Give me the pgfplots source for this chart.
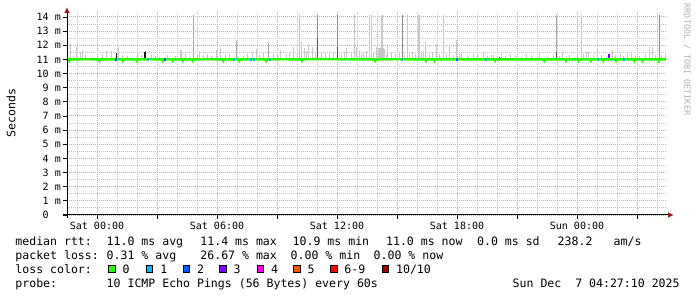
\documentclass[border=0pt]{standalone}
\usepackage{pgfplots}
\pgfplotsset{compat=1.18}
\usepackage{fontspec}
\newfontfamily\mono{DejaVu Sans Mono}
\newcommand\legfont{\mono\fontsize{11.55bp}{13bp}\selectfont}
\newcommand\tickfont{\mono\fontsize{10bp}{12bp}\selectfont}
\definecolor{majgrid}{HTML}{EC9A9A}
\definecolor{mingrid}{HTML}{C4C4C4}
\definecolor{smokeL}{HTML}{C8C8C8}
\definecolor{smokeM}{HTML}{A8A8A8}
\definecolor{smokeD}{HTML}{8C8C8C}
\definecolor{smokeX}{HTML}{555555}
\definecolor{smokeK}{HTML}{1A1A1A}
\definecolor{loss0}{HTML}{26FF00}
\definecolor{loss1}{HTML}{00B8FF}
\definecolor{loss2}{HTML}{0059FF}
\definecolor{loss3}{HTML}{7E00FF}
\definecolor{loss4}{HTML}{FF00FF}
\definecolor{loss5}{HTML}{FF5500}
\definecolor{loss6}{HTML}{FF0000}
\definecolor{loss10}{HTML}{A10000}
\definecolor{arrowred}{HTML}{9A1A1A}
\definecolor{wm}{HTML}{B0B0B0}
\begin{document}
\begin{tikzpicture}
\fill[white] (0,0) rectangle (697bp,297bp);
\path[use as bounding box] (0,0) rectangle (697bp,297bp);
\begin{axis}[
  at={(67bp,82bp)}, anchor=south west, scale only axis,
  width=600bp, height=202.7bp,
  xmin=-1.5, xmax=28.5, ymin=0, ymax=14.33,
  axis line style={draw=none},
  tick pos=left, tick align=outside,
  major tick length=3.5bp, minor tick length=0pt,
  every tick/.style={black, line width=0.8bp},
  xtick={0,3,6,9,12,15,18,21,24,27},
  xticklabels={Sat 00:00,{},Sat 06:00,{},Sat 12:00,{},Sat 18:00,{},Sun 00:00,{}},
  minor xtick={-1,1,2,4,5,7,8,10,11,13,14,16,17,19,20,22,23,25,26,28},
  ytick={0,1,2,3,4,5,6,7,8,9,10,11,12,13,14},
  yticklabels={0\hphantom{\ m},1 m,2 m,3 m,4 m,5 m,6 m,7 m,8 m,9 m,10 m,11 m,12 m,13 m,14 m},
  minor ytick={0.5,1.5,2.5,3.5,4.5,5.5,6.5,7.5,8.5,9.5,10.5,11.5,12.5,13.5},
  grid=both,
  major grid style={draw=majgrid, line width=1bp, dash pattern=on 1bp off 1bp},
  minor grid style={draw=mingrid, line width=1bp, dash pattern=on 1bp off 1bp},
  xticklabel style={font=\tickfont, inner sep=0pt, anchor=north, yshift=-2.9bp},
  yticklabel style={font=\tickfont, inner sep=0pt, anchor=east, xshift=-2.5bp},
  ylabel={Seconds},
  every axis y label/.style={at={(axis description cs:-0.0933,0.503)}, rotate=90, anchor=center, font=\legfont},
  smoke/.style={draw=none, no markers, forget plot, error bars/.cd, y dir=plus, y explicit, error mark=none, error bar style={line width=1bp, draw=#1, solid}},
]
% base smoke
\addplot[smoke=smokeL] coordinates {
(-1.2,11) +- (0,0.25) (-0.95,11) +- (0,0.2) (-0.6,11) +- (0,0.3) (-0.3,11) +- (0,0.2)
(0.0,11) +- (0,0.25) (0.25,11) +- (0,0.35) (0.9,11) +- (0,0.2) (1.5,11) +- (0,0.25)
(1.7,11) +- (0,0.2) (2.2,11) +- (0,0.3) (2.9,11) +- (0,0.25) (3.1,11) +- (0,0.2)
(3.5,11) +- (0,0.3) (3.9,11) +- (0,0.25) (4.4,11) +- (0,0.35) (4.6,11) +- (0,0.2)
(5.0,11) +- (0,0.3) (5.7,11) +- (0,0.25) (6.4,11) +- (0,0.3) (6.6,11) +- (0,0.35)
(7.3,11) +- (0,0.25) (7.5,11) +- (0,0.4) (8.1,11) +- (0,0.3) (8.3,11) +- (0,0.45)
(8.8,11) +- (0,0.35) (9.0,11) +- (0,0.4) (9.45,11) +- (0,0.35) (9.6,11) +- (0,0.45)
(10.0,11) +- (0,0.5) (10.45,11) +- (0,0.6) (10.9,11) +- (0,0.5) (11.2,11) +- (0,0.45)
(11.4,11) +- (0,0.5) (11.6,11) +- (0,0.4) (11.8,11) +- (0,0.45) (12.2,11) +- (0,0.4)
(12.35,11) +- (0,0.5) (12.7,11) +- (0,0.45) (13.2,11) +- (0,0.4) (13.8,11) +- (0,0.5)
(14.45,11) +- (0,0.4) (14.7,11) +- (0,0.45) (14.9,11) +- (0,0.35) (15.35,11) +- (0,0.4)
(15.6,11) +- (0,0.45) (15.9,11) +- (0,0.35) (16.6,11) +- (0,0.4) (17.1,11) +- (0,0.35)
(17.45,11) +- (0,0.4) (17.8,11) +- (0,0.3) (18.1,11) +- (0,0.35) (18.5,11) +- (0,0.3)
(19.0,11) +- (0,0.3) (19.5,11) +- (0,0.25) (19.8,11) +- (0,0.3) (20.4,11) +- (0,0.25)
(20.9,11) +- (0,0.3) (21.2,11) +- (0,0.2) (21.7,11) +- (0,0.3) (22.0,11) +- (0,0.25)
(22.5,11) +- (0,0.2) (22.8,11) +- (0,0.3) (23.1,11) +- (0,0.25) (23.6,11) +- (0,0.3)
(23.9,11) +- (0,0.2) (24.3,11) +- (0,0.35) (24.8,11) +- (0,0.3) (25.2,11) +- (0,0.3)
(25.45,11) +- (0,0.25) (25.9,11) +- (0,0.3) (26.3,11) +- (0,0.25) (26.5,11) +- (0,0.35)
(26.9,11) +- (0,0.3) (27.1,11) +- (0,0.25) (27.4,11) +- (0,0.35) (27.9,11) +- (0,0.3)
(28.2,11) +- (0,0.3)
};
% medium light spikes
\addplot[smoke=smokeL] coordinates {
(-1.32,11) +- (0,1.1) (-1.05,11) +- (0,0.86) (-0.85,11) +- (0,0.55) (-0.72,11) +- (0,0.7)
(0.45,11) +- (0,0.6) (0.7,11) +- (0,0.6) (1.07,11) +- (0,0.86) (1.28,11) +- (0,0.3)
(2.03,11) +- (0,0.55) (2.7,11) +- (0,0.4) (4.15,11) +- (0,0.7) (4.23,11) +- (0,0.7)
(5.12,11) +- (0,0.6) (5.3,11) +- (0,0.3) (5.5,11) +- (0,0.35) (5.98,11) +- (0,0.7)
(6.15,11) +- (0,0.86) (7.78,11) +- (0,0.55) (7.98,11) +- (0,0.74) (9.15,11) +- (0,0.67)
(9.82,11) +- (0,0.9) (10.2,11) +- (0,1.2) (10.35,11) +- (0,0.8) (10.57,11) +- (0,1.0)
(10.77,11) +- (0,0.9) (12.48,11) +- (0,0.83) (12.95,11) +- (0,0.9) (13.1,11) +- (0,0.67)
(13.3,11) +- (0,0.5) (13.45,11) +- (0,0.6) (13.95,11) +- (0,0.9) (14.05,11) +- (0,0.8)
(14.1,11) +- (0,0.8) (14.15,11) +- (0,0.8) (14.3,11) +- (0,0.8) (14.35,11) +- (0,0.75)
(14.53,11) +- (0,0.95) (15.12,11) +- (0,0.55) (15.75,11) +- (0,0.55) (16.2,11) +- (0,0.6)
(16.3,11) +- (0,0.6) (16.42,11) +- (0,1.25) (16.78,11) +- (0,0.55) (16.98,11) +- (0,1.0)
(17.62,11) +- (0,1.0) (17.95,11) +- (0,1.4) (18.23,11) +- (0,0.55) (18.8,11) +- (0,0.4)
(19.3,11) +- (0,0.45) (19.7,11) +- (0,0.3) (20.2,11) +- (0,0.5) (20.65,11) +- (0,0.4)
(21.45,11) +- (0,0.35) (22.12,11) +- (0,0.45) (23.28,11) +- (0,0.55) (24.03,11) +- (0,0.45)
(24.45,11) +- (0,0.55) (24.58,11) +- (0,0.5) (25.0,11) +- (0,0.79) (25.78,11) +- (0,0.67)
(26.15,11) +- (0,0.45) (26.7,11) +- (0,0.45) (27.62,11) +- (0,0.86) (27.75,11) +- (0,0.86)
(28.42,11) +- (0,0.4)
};
% tall light spikes
\addplot[smoke=smokeL] coordinates {
(10.1,11) +- (0,3.15) (12.85,11) +- (0,3.15) (13.63,11) +- (0,3.15) (13.7,11) +- (0,3.15)
(14.22,11) +- (0,3.15) (14.28,11) +- (0,3.15) (15.5,11) +- (0,3.15) (16.05,11) +- (0,3.15)
(16.12,11) +- (0,3.15) (17.32,11) +- (0,3.15) (24.22,11) +- (0,3.15)
};
% medium gray spikes
\addplot[smoke=smokeM] coordinates {
(4.8,11) +- (0,3.15) (22.97,11) +- (0,3.15) (6.98,11) +- (0,1.3) (8.58,11) +- (0,1.14)
};
% dark gray spikes
\addplot[smoke=smokeD] coordinates {
(11.0,11) +- (0,3.15) (12.0,11) +- (0,3.15) (15.27,11) +- (0,3.15) (28.12,11) +- (0,3.15)
};
% dense (dark) lower parts
\addplot[smoke=smokeX] coordinates {
(11.0,11) +- (0,1.5) (12.0,11) +- (0,0.9) (22.97,11) +- (0,0.55)
};
\addplot[smoke=smokeK] coordinates {
(0.95,11) +- (0,0.45) (2.38,11) +- (0,0.5) (2.43,11) +- (0,0.5) (20.1,11) +- (0,0.15)
};
\addplot[smoke=loss3] coordinates {
(2.4,11.5) +- (0,0.12) (25.55,10.95) +- (0,0.45) (25.6,10.95) +- (0,0.45)
};
% median rtt
\addplot[loss0, line width=2.4bp, no markers, forget plot] coordinates {
(-1.5,11.0) (-1.43,11.0) (-1.39,10.9) (-1.35,11.0) (-0.5,11.01) (0.08,11.0) (0.12,10.9)
(0.16,11.0) (0.7,11.0) (1.25,11.0) (1.29,10.9) (1.33,11.0) (1.95,11.0) (1.99,10.9)
(2.03,11.0) (2.6,11.01) (3.25,11.0) (3.29,10.9) (3.33,11.0) (3.75,11.0) (3.79,10.9)
(3.83,11.0) (4.25,11.0) (4.29,10.9) (4.33,11.0) (4.75,11.0) (4.79,10.9) (4.83,11.0)
(5.5,11.01) (6.28,11.0) (6.32,10.9) (6.36,11.0) (7.08,11.0) (7.12,10.9) (7.16,11.0)
(7.8,11.01) (8.41,11.0) (8.45,10.9) (8.49,11.0) (9.3,11.01) (10.21,11.0) (10.25,10.9)
(10.29,11.0) (11.0,11.02) (12.0,11.01) (13.0,11.0) (13.86,11.0) (13.9,10.9) (13.94,11.0)
(15.0,11.01) (16.41,11.0) (16.45,10.9) (16.49,11.0) (16.83,11.0) (16.87,10.9) (16.91,11.0)
(18.0,11.0) (19.86,11.0) (19.9,10.9) (19.94,11.0) (21.0,11.0) (22.33,11.0) (22.37,10.9)
(22.41,11.0) (23.41,11.0) (23.45,10.9) (23.49,11.0) (24.04,11.0) (24.08,10.9) (24.12,11.0)
(24.66,11.0) (24.7,10.9) (24.74,11.0) (25.28,11.0) (25.32,10.9) (25.36,11.0) (25.91,11.0)
(25.95,10.9) (25.99,11.0) (26.83,11.0) (26.87,10.9) (26.91,11.0) (27.24,11.0) (27.28,10.9)
(27.32,11.0) (28.03,11.0) (28.07,10.9) (28.11,11.0) (28.45,11.0)
};
% loss 1/10
\addplot[loss1, line width=3bp, no markers, unbounded coords=jump, forget plot] coordinates {
(2.48,11) (2.58,11) (2.6,nan) (6.82,11) (6.92,11) (6.95,nan) (7.67,11) (7.77,11) (7.8,nan)
(7.82,11) (7.92,11) (7.95,nan) (8.62,11) (8.72,11) (8.75,nan) (15.2,11) (15.3,11) (15.35,nan)
(19.42,11) (19.52,11) (19.55,nan) (24.98,11) (25.08,11) (25.1,nan) (26.32,11) (26.42,11)
};
% loss 2/10
\addplot[loss2, line width=3bp, no markers, unbounded coords=jump, forget plot] coordinates {
(0.92,11) (1.02,11) (1.05,nan) (3.35,11) (3.45,11) (3.5,nan) (17.94,11) (18.04,11)
};
\end{axis}
\begin{scope}[x=1bp, y=1bp]
% axes with arrows
\draw[black, line width=1bp] (63,82) -- (668,82);
\fill[arrowred] (668,79.3) -- (673.5,82) -- (668,84.7) -- cycle;
\draw[black, line width=1bp] (67,79) -- (67,284);
\fill[arrowred] (64.3,284) -- (67,289.5) -- (69.7,284) -- cycle;
% watermark
\node[rotate=-90, anchor=center, inner sep=0pt, text=wm, font=\mono\fontsize{8.4bp}{10bp}\selectfont] at (687,237.5) {RRDTOOL / TOBI OETIKER};
\begin{scope}[every node/.style={inner sep=0pt, anchor=base west, font=\legfont}]
\node at (15.2,51.7) {median rtt:};
\node at (106.5,51.7) {11.0 ms avg};
\node at (200.2,51.7) {11.4 ms max};
\node at (292.5,51.7) {10.9 ms min};
\node at (385.9,51.7) {11.0 ms now};
\node at (476.9,51.7) {0.0 ms sd};
\node at (557.5,51.7) {238.2};
\node at (613.5,51.7) {am/s};
\node at (15.2,37.8) {packet loss:};
\node at (106.5,37.8) {0.31 \% avg};
\node at (200.2,37.8) {26.67 \% max};
\node at (290.5,37.8) {0.00 \% min};
\node at (373.5,37.8) {0.00 \% now};
\node at (15.2,23.9) {loss color:};
\node at (122.5,23.9) {0};
\node at (160.2,23.9) {1};
\node at (196.9,23.9) {2};
\node at (233.5,23.9) {3};
\node at (270.9,23.9) {4};
\node at (307.5,23.9) {5};
\node at (344.2,23.9) {6-9};
\node at (395.9,23.9) {10/10};
\node at (15.2,10.0) {probe:};
\node at (106.5,10.0) {10 ICMP Echo Pings (56 Bytes) every 60s};
\node at (512.5,10.0) {Sun Dec\ \ 7 04:27:10 2025};
\end{scope}
\filldraw[fill=loss0, draw=black, line width=1bp] (108.8,24.2) rectangle (115.5,31.2);
\filldraw[fill=loss1, draw=black, line width=1bp] (146.2,24.2) rectangle (152.9,31.2);
\filldraw[fill=loss2, draw=black, line width=1bp] (183.2,24.2) rectangle (189.9,31.2);
\filldraw[fill=loss3, draw=black, line width=1bp] (219.8,24.2) rectangle (226.5,31.2);
\filldraw[fill=loss4, draw=black, line width=1bp] (257.2,24.2) rectangle (263.9,31.2);
\filldraw[fill=loss5, draw=black, line width=1bp] (293.8,24.2) rectangle (300.5,31.2);
\filldraw[fill=loss6, draw=black, line width=1bp] (330.5,24.2) rectangle (337.2,31.2);
\filldraw[fill=loss10, draw=black, line width=1bp] (382.2,24.2) rectangle (388.9,31.2);
\end{scope}
\end{tikzpicture}
\end{document}
